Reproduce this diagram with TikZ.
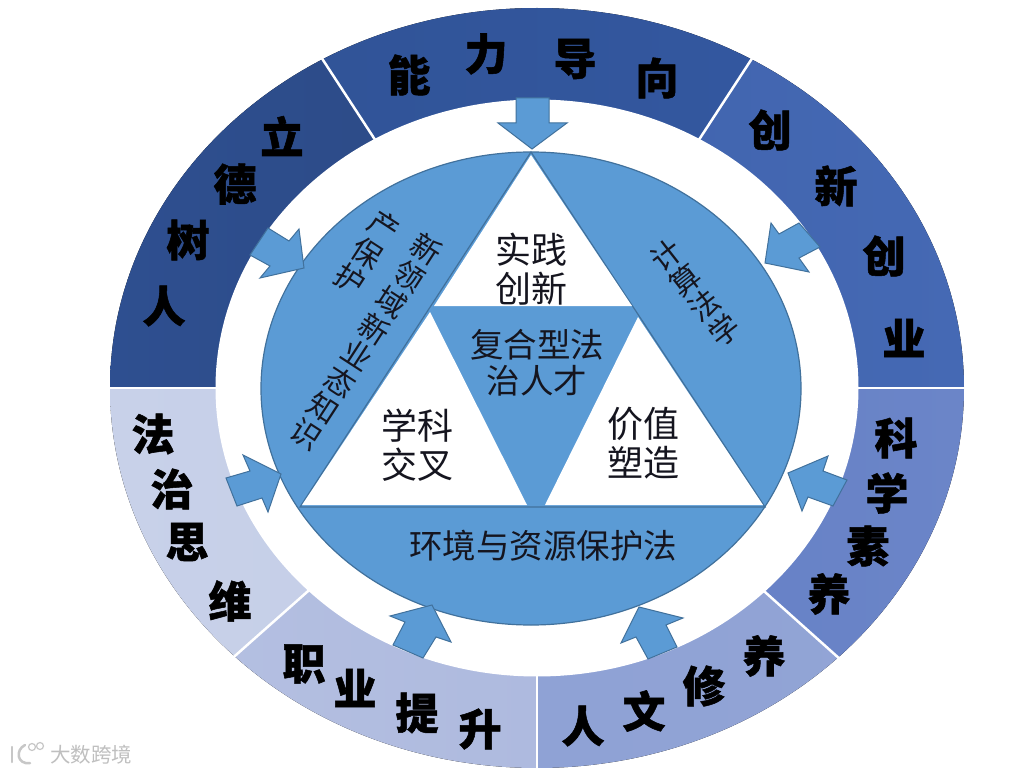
\documentclass[tikz,border=0pt]{standalone}
\usepackage{fontspec}
\newfontfamily\cjk[BoldFeatures={FakeBold=1.2}]{Noto Sans CJK SC}
\definecolor{midblue}{HTML}{5B9BD5}
\definecolor{edgeblue}{HTML}{41719C}
\definecolor{inktext}{HTML}{15151F}
\tikzset{
  ringtext/.style={font=\cjk\bfseries\fontsize{43}{43}\selectfont,text=black,inner sep=0pt},
  flattext/.style={font=\cjk\fontsize{36}{38.5}\selectfont,text=inktext,inner sep=0pt,align=center},
  coretext/.style={font=\cjk\fontsize{33.5}{36}\selectfont,text=inktext,inner sep=0pt,align=center},
  slanttext/.style={font=\cjk\fontsize{30}{31.5}\selectfont,text=inktext,inner sep=0pt,align=center},
  blockarrow/.style={fill=midblue,draw=edgeblue,line width=1pt,line join=miter},
  holetri/.style={fill=white,draw=none},
  gapline/.style={draw=white,line width=2.5pt},
  watermark/.style={font=\cjk\fontsize{20.5}{20.5}\selectfont,text=black!25,inner sep=0pt}
}
\newcommand{\ringsector}[3]{%
  \definecolor{secL}{HTML}{#2}\definecolor{secR}{HTML}{#3}%
  \begin{scope}
    \clip #1;
    \fill[left color=secL,right color=secR] (537,388) ellipse [x radius=427,y radius=380];
  \end{scope}}
\begin{document}
\begin{tikzpicture}[x=1pt,y=-1pt]
\useasboundingbox (0,0) rectangle (1013,773);
\fill[white] (0,0) rectangle (1013,773);
\coordinate (c) at (537,388);
\coordinate (dA) at (216,-104);
\coordinate (dB) at (858,-104);
\coordinate (dL) at (-50,388);
\coordinate (dR) at (1100,388);
\coordinate (dD) at (-153,1000);
\coordinate (dE) at (1221,1000);
\coordinate (dF) at (537,1000);
% ring sectors
\ringsector{(c) -- (dL) -- (-50,-104) -- (dA) -- cycle}{2E4F90}{2A4478}
\ringsector{(c) -- (dA) -- (dB) -- cycle}{2F5294}{3559A3}
\ringsector{(c) -- (dB) -- (1100,-104) -- (dR) -- cycle}{3B5DA6}{4569B4}
\ringsector{(c) -- (dR) -- (1300,388) -- (1300,1000) -- (dE) -- cycle}{5C78C2}{6B85C8}
\ringsector{(c) -- (dE) -- (dF) -- cycle}{8A9ED3}{93A5D6}
\ringsector{(c) -- (dF) -- (dD) -- cycle}{B6C1E2}{A6B3DB}
\ringsector{(c) -- (dD) -- (-200,1000) -- (-200,388) -- (dL) -- cycle}{C8D1E9}{BFC9E5}
% dividers
\draw[gapline] (c) -- (dA);
\draw[gapline] (c) -- (dB);
\draw[gapline] (c) -- (dL);
\draw[gapline] (c) -- (dR);
\draw[gapline] (c) -- (dD);
\draw[gapline] (c) -- (dE);
\draw[gapline] (c) -- (dF);
\fill[white] (c) ellipse [x radius=321.5,y radius=288.5];
% central disc
\fill[midblue,draw=edgeblue,line width=1.2pt] (531,388.5) ellipse [x radius=270,y radius=236.5];
\draw[edgeblue,line width=1.2pt] (531,152) -- (300,507) -- (765,507) -- cycle;
\fill[holetri] (531,155) -- (434,306) -- (632,306) -- cycle;
\fill[holetri] (430,312) -- (302,505) -- (527,505) -- cycle;
\fill[holetri] (638,317) -- (545,505) -- (763,505) -- cycle;
% block arrows
\draw[blockarrow] (516,98) -- (549,98) -- (549,123) -- (567,123) -- (532,149) -- (498,123) -- (516,123) -- cycle;
\draw[blockarrow] (268,228) -- (289,241) -- (299,229) -- (304,268) -- (260,278) -- (270,266) -- (250,255) -- cycle;
\draw[blockarrow] (799,223) -- (779,234) -- (771,223) -- (765,263) -- (809,272) -- (799,258) -- (820,247) -- cycle;
\draw[blockarrow] (226,478) -- (250,471) -- (243,455) -- (281,474) -- (268,512) -- (262,498) -- (237,506) -- cycle;
\draw[blockarrow] (847,480) -- (823,471) -- (828,456) -- (788,473) -- (802,511) -- (808,497) -- (833,506) -- cycle;
\draw[blockarrow] (393,645) -- (405,622) -- (390,616) -- (432,605) -- (451,642) -- (436,637) -- (423,658) -- cycle;
\draw[blockarrow] (677,647) -- (666,625) -- (683,618) -- (639,607) -- (621,643) -- (636,637) -- (648,659) -- cycle;
% ring text
\node[ringtext] (t1) at (409,75) {能};
\node[ringtext] (t2) at (486,54) {力};
\node[ringtext] (t3) at (575,59) {导};
\node[ringtext] (t4) at (657,78) {向};
\node[ringtext] (t5) at (282,136) {立};
\node[ringtext] (t6) at (235,184) {德};
\node[ringtext] (t7) at (188,240) {树};
\node[ringtext] (t8) at (164,306) {人};
\node[ringtext] (t9) at (770,130) {创};
\node[ringtext] (t10) at (836,186) {新};
\node[ringtext] (t11) at (884,256) {创};
\node[ringtext] (t12) at (904,338) {业};
\node[ringtext] (t13) at (896,438) {科};
\node[ringtext] (t14) at (887,493) {学};
\node[ringtext] (t15) at (868,546) {素};
\node[ringtext] (t16) at (829,594) {养};
\node[ringtext] (t17) at (153,434) {法};
\node[ringtext] (t18) at (172,489) {治};
\node[ringtext] (t19) at (187,542) {思};
\node[ringtext] (t20) at (230,601) {维};
\node[ringtext] (t21) at (304,664) {职};
\node[ringtext] (t22) at (355,688) {业};
\node[ringtext] (t23) at (417,713) {提};
\node[ringtext] (t24) at (480,729) {升};
\node[ringtext] (t25) at (583,726) {人};
\node[ringtext] (t26) at (644,711) {文};
\node[ringtext] (t27) at (704,686) {修};
\node[ringtext] (t28) at (764,656) {养};
% inner text
\node[flattext] (practice) at (531,269) {实践\\创新};
\node[coretext] (core) at (537,363) {复合型法\\治人才};
\node[flattext] (cross) at (417,445) {学科\\交叉};
\node[flattext] (value) at (643,443) {价值\\塑造};
\node[coretext] (env) at (543,546) {环境与资源保护法};
\node[slanttext,rotate=-33] (newfield) at (366,342) {新\\领\\域\\新\\业\\态\\知\\识};
\node[slanttext,rotate=-33] (ipr) at (367,253) {产\\保\\护};
\node[slanttext,rotate=38] (complaw) at (695,293) {计\\算\\法\\学};
% watermark
\node[watermark] (mark) at (91,755) {大数跨境};
\draw[black!22,line width=2.5pt,line cap=round] (12,747) -- (12,762);
\draw[black!22,line width=2.5pt,line cap=round] (25,745) .. controls (15,750) and (17,765) .. (30,763);
\draw[black!22,line width=1.2pt] (32,747) circle [radius=3.5];
\draw[black!22,line width=1.2pt] (40,746) circle [radius=3.5];
\end{tikzpicture}
\end{document}
